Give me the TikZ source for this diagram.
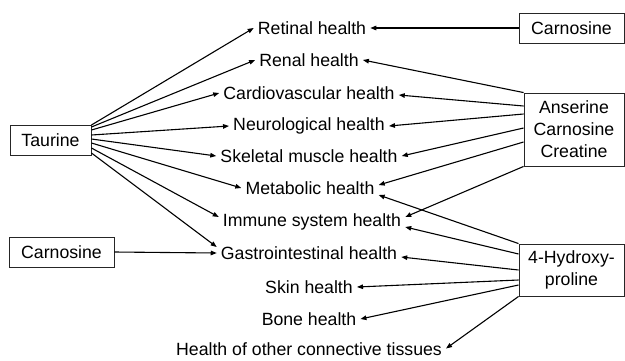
\documentclass[tikz,border=0pt]{standalone}
\usepackage{fontspec}
\setmainfont{Liberation Sans}
\usetikzlibrary{arrows.meta,positioning}

\tikzset{
  box/.style={draw=black!85, line width=0.9pt, align=center, inner sep=0pt},
  effect/.style={inner xsep=4pt, inner ysep=1pt},
  arr/.style={-{Triangle[length=6pt,width=4.5pt]}, line width=1.1pt},
}

\begin{document}
\begin{tikzpicture}[x=1pt, y=-1pt, font=\fontsize{17.7}{22}\selectfont]
    \useasboundingbox (0,0) rectangle (625,360);

    % sources
    \node[box, minimum width=81pt, minimum height=30pt] (tau) at (50.5,140) {Taurine};
    \node[box, minimum width=105pt, minimum height=30pt] (carA) at (571.5,28) {Carnosine};
    \node[box, minimum width=100pt, minimum height=73pt] (ans) at (574,129.5) {Anserine\\Carnosine\\Creatine};
    \node[box, minimum width=105pt, minimum height=30pt] (carB) at (61.5,252) {Carnosine};
    \node[box, minimum width=105pt, minimum height=52pt] (hyp) at (571.5,270) {4-Hydroxy-\\proline};

    % health effects
    \node[effect] (ret) at (312,28) {Retinal health};
    \node[effect] (ren) at (309,60) {Renal health};
    \node[effect] (car) at (309,93) {Cardiovascular health};
    \node[effect] (neu) at (309,126) {Neurological health};
    \node[effect] (ske) at (309,156) {Skeletal muscle health};
    \node[effect] (met) at (310,188) {Metabolic health};
    \node[effect] (imm) at (312,222) {Immune system health};
    \node[effect] (gas) at (309,253) {Gastrointestinal health};
    \node[effect] (skin) at (309,287) {Skin health};
    \node[effect] (bone) at (309,319) {Bone health};
    \node[effect] (con) at (309,349.5) {Health of other connective tissues};

    % Taurine
    \draw[arr] ([yshift=15pt]tau.east) -- (ret.west);
    \draw[arr] ([yshift=13pt]tau.east) -- (ren.west);
    \draw[arr] ([yshift=10pt]tau.east) -- (car.west);
    \draw[arr] ([yshift=5pt]tau.east) -- (neu.west);
    \draw[arr] ([yshift=1pt]tau.east) -- (ske.west);
    \draw[arr] ([yshift=-3pt]tau.east) -- (met.west);
    \draw[arr] ([yshift=-8pt]tau.east) -- ([yshift=5pt]imm.west);
    \draw[arr] ([yshift=-13pt]tau.east) -- ([yshift=6pt]gas.west);

    % Carnosine
    \draw[arr] (carA.west) -- (ret.east);
    \draw[arr] (carB.east) -- (gas.west);

    % Anserine, Carnosine, Creatine
    \draw[arr] (ans.north west) -- (ren.east);
    \draw[arr] ([yshift=23.5pt]ans.west) -- ([yshift=-2pt]car.east);
    \draw[arr] ([yshift=15.5pt]ans.west) -- (neu.east);
    \draw[arr] ([yshift=1.5pt]ans.west) -- (ske.east);
    \draw[arr] ([yshift=-12.5pt]ans.west) -- ([yshift=3pt]met.east);
    \draw[arr] (ans.south west) -- ([yshift=5pt]imm.east);

    % 4-Hydroxyproline
    \draw[arr] (hyp.north west) -- ([yshift=-7pt]met.east);
    \draw[arr] ([yshift=16pt]hyp.west) -- ([yshift=-5pt]imm.east);
    \draw[arr] (hyp.west) -- ([yshift=-4pt]gas.east);
    \draw[arr] ([yshift=-10pt]hyp.west) -- (skin.east);
    \draw[arr] ([yshift=-15pt]hyp.west) -- (bone.east);
    \draw[arr] (hyp.south west) -- ([yshift=1pt]con.east);
\end{tikzpicture}
\end{document}
